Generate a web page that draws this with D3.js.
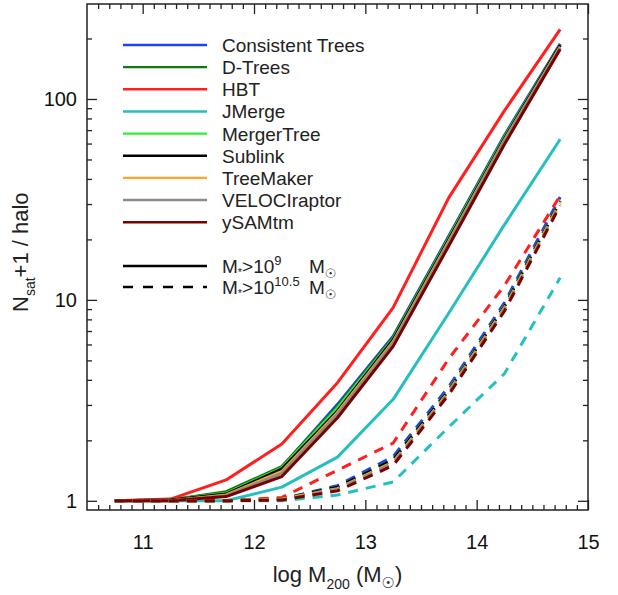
<!DOCTYPE html>
<html><head><meta charset="utf-8">
<script src="https://cdn.jsdelivr.net/npm/d3@7"></script>
<style>
body{margin:0;background:#fff;}
svg{display:block;font-family:"Liberation Sans",Arial,Helvetica,sans-serif;}
</style>
</head><body><svg id="c" width="618" height="595"></svg>
<script>
// ---- data ----
const logM200 = [10.75, 11.25, 11.75, 12.25, 12.75, 13.25, 13.75, 14.25, 14.75];
const trackers = ["Consistent Trees","D-Trees","HBT","JMerge","MergerTree","Sublink","TreeMaker","VELOCIraptor","ySAMtm"];
const colors = ["#1e40ff","#137813","#ff1f1f","#26bfbf","#33ee33","#000000","#ffa424","#8c8c8c","#7a0000"];

// M* > 1e9 (solid)
const ctSolid = [1, 1.01, 1.10, 1.47, 3.02, 6.6, 20.8, 66, 188];
const dtSolid = [1, 1.01, 1.11, 1.48, 2.95, 6.5, 20.5, 65, 186];
const hbtSolid = [1, 1.02, 1.27, 1.92, 3.87, 9.15, 32.3, 87.5, 222];
const jmSolid = [1, 1.0, 1.0, 1.17, 1.65, 3.2, 8.6, 23.7, 63];
const mtSolid = [1, 1.01, 1.09, 1.46, 2.9, 6.4, 20.3, 64.5, 185];
const slSolid = [1, 1.01, 1.08, 1.44, 2.8, 6.33, 20, 63.6, 185];
const tmSolid = [1, 1.0, 1.07, 1.40, 2.75, 6.2, 19.6, 62.5, 182];
const vrSolid = [1, 1.0, 1.06, 1.37, 2.7, 6.1, 19.3, 62, 180];
const ysSolid = [1, 1.0, 1.05, 1.32, 2.59, 5.87, 18.6, 59.5, 177];

// M* > 10^10.5 (dashed)
const ctDashed = [1, 1, 1, 1.02, 1.19, 1.66, 3.7, 9.7, 32.5];
const dtDashed = [1, 1, 1, 1.02, 1.17, 1.61, 3.58, 9.4, 31.2];
const hbtDashed = [1, 1, 1, 1.04, 1.42, 1.94, 5.1, 11.8, 33];
const jmDashed = [1, 1, 1, 1.0, 1.07, 1.24, 2.33, 4.3, 12.9];
const mtDashed = [1, 1, 1, 1.02, 1.17, 1.6, 3.57, 9.35, 31];
const slDashed = [1, 1, 1, 1.02, 1.17, 1.6, 3.55, 9.3, 30.9];
const tmDashed = [1, 1, 1, 1.02, 1.15, 1.56, 3.5, 9.15, 30.5];
const vrDashed = [1, 1, 1, 1.01, 1.14, 1.54, 3.45, 9.0, 30];
const ysDashed = [1, 1, 1, 1.01, 1.12, 1.5, 3.38, 8.8, 29.5];

const solidSeries = [ctSolid, dtSolid, hbtSolid, jmSolid, mtSolid, slSolid, tmSolid, vrSolid, ysSolid];
const dashedSeries = [ctDashed, dtDashed, hbtDashed, jmDashed, mtDashed, slDashed, tmDashed, vrDashed, ysDashed];

const xMajorTicks = [11, 12, 13, 14, 15];
const yMajorTicks = [1, 10, 100];
const yTickLabels = ["1", "10", "100"];

// ---- layout ----
const svg = d3.select("#c");
const L = 87, R = 588, T = 4, B = 510;
const x = d3.scaleLinear().domain([10.5, 15]).range([L, R]);
const y = d3.scaleLog().domain([0.9, 297]).range([B, T]);

const xMinor = d3.range(106, 150).map(d => d / 10).filter(d => Math.abs(d - Math.round(d)) > 1e-6);
const yMinor = [];
[1, 10, 100].forEach(dec => { for (let k = 2; k <= 9; k++) { const v = dec * k; if (v < 297) yMinor.push(v); } });

const axisColor = "#222";
const tickFont = 20;

function styleAxis(g) {
  g.select(".domain").remove();
  g.selectAll(".tick line").attr("stroke", axisColor).attr("stroke-width", 1.3);
  g.selectAll(".tick text").attr("fill", "#111").style("font-size", tickFont + "px")
    .style("font-family", '"Liberation Sans",Arial,sans-serif');
}

// bottom
svg.append("g").attr("transform", `translate(0,${B})`)
  .call(d3.axisBottom(x).tickValues(xMajorTicks).tickSize(-10).tickPadding(25).tickFormat(d3.format("d")))
  .call(styleAxis);
svg.append("g").attr("transform", `translate(0,${B})`)
  .call(d3.axisBottom(x).tickValues(xMinor).tickSize(-5).tickFormat(""))
  .call(styleAxis);
// top
svg.append("g").attr("transform", `translate(0,${T})`)
  .call(d3.axisTop(x).tickValues(xMajorTicks).tickSize(-10).tickFormat(""))
  .call(styleAxis);
svg.append("g").attr("transform", `translate(0,${T})`)
  .call(d3.axisTop(x).tickValues(xMinor).tickSize(-5).tickFormat(""))
  .call(styleAxis);
// left
svg.append("g").attr("transform", `translate(${L},0)`)
  .call(d3.axisLeft(y).tickValues(yMajorTicks).tickSize(-10).tickPadding(10)
    .tickFormat((d, i) => yTickLabels[i]))
  .call(styleAxis);
svg.append("g").attr("transform", `translate(${L},0)`)
  .call(d3.axisLeft(y).tickValues(yMinor).tickSize(-5).tickFormat(""))
  .call(styleAxis);
// right
svg.append("g").attr("transform", `translate(${R},0)`)
  .call(d3.axisRight(y).tickValues(yMajorTicks).tickSize(-10).tickFormat(""))
  .call(styleAxis);
svg.append("g").attr("transform", `translate(${R},0)`)
  .call(d3.axisRight(y).tickValues(yMinor).tickSize(-5).tickFormat(""))
  .call(styleAxis);

// frame
svg.append("rect").attr("x", L).attr("y", T).attr("width", R - L).attr("height", B - T)
  .attr("fill", "none").attr("stroke", axisColor).attr("stroke-width", 1.5);

// lines
const line = d3.line().x((d, i) => x(logM200[i])).y(d => y(d));
const plot = svg.append("g");
solidSeries.forEach((s, i) => {
  plot.append("path").datum(s).attr("d", line).attr("fill", "none")
    .attr("stroke", colors[i]).attr("stroke-width", 3).attr("stroke-linejoin", "round");
});
dashedSeries.forEach((s, i) => {
  plot.append("path").datum(s).attr("d", line).attr("fill", "none")
    .attr("stroke", colors[i]).attr("stroke-width", 3).attr("stroke-dasharray", "10,8");
});

// legend
const legFont = 19;
const lg = svg.append("g");
trackers.forEach((name, i) => {
  const yy = 45 + i * 22.15;
  lg.append("line").attr("x1", 123).attr("x2", 207).attr("y1", yy).attr("y2", yy)
    .attr("stroke", colors[i]).attr("stroke-width", 2.4);
  lg.append("text").attr("x", 222).attr("y", yy + 7).style("font-size", legFont + "px")
    .attr("fill", "#222").text(name);
});
const stRows = [{y: 266, dash: null, sup: "9"}, {y: 287, dash: "10,10", sup: "10.5"}];
stRows.forEach(r => {
  lg.append("line").attr("x1", 123).attr("x2", 207).attr("y1", r.y).attr("y2", r.y)
    .attr("stroke", "#000").attr("stroke-width", 2.4).attr("stroke-dasharray", r.dash);
  const t = lg.append("text").attr("x", 222).attr("y", r.y + 7).style("font-size", legFont + "px").attr("fill", "#222");
  t.append("tspan").text("M");
  t.append("tspan").text("*").style("font-size", "11px").attr("dy", 3);
  t.append("tspan").text(">").attr("dy", -3);
  t.append("tspan").text("10");
  t.append("tspan").text(r.sup).style("font-size", "13px").attr("dy", -8);
  const t2 = lg.append("text").attr("x", 309).attr("y", r.y + 7).style("font-size", legFont + "px").attr("fill", "#222");
  t2.append("tspan").text("M");
  t2.append("tspan").text("\u2609").style("font-size", "13px").attr("dy", 5)
    .style("font-family", '"DejaVu Sans",sans-serif');
});

// axis titles
const xt = svg.append("text").attr("x", (L + R) / 2).attr("y", 582).attr("text-anchor", "middle")
  .style("font-size", "22px").attr("fill", "#222");
xt.append("tspan").text("log M");
xt.append("tspan").text("200").style("font-size", "14px").attr("dy", 7);
xt.append("tspan").text(" (M").attr("dy", -7);
xt.append("tspan").text("\u2609").style("font-size", "15px").attr("dy", 6)
  .style("font-family", '"DejaVu Sans",sans-serif');
xt.append("tspan").text(")").attr("dy", -6);

const yt = svg.append("text").attr("transform", "translate(28,312) rotate(-90)")
  .attr("text-anchor", "start").style("font-size", "22px").attr("fill", "#222");
yt.append("tspan").text("N");
yt.append("tspan").text("sat").style("font-size", "14px").attr("dy", 7);
yt.append("tspan").text("+1 / halo").attr("dy", -7);
</script></body></html>
